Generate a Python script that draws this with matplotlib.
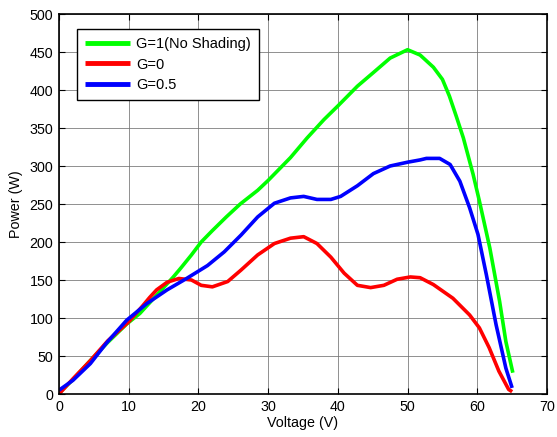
import matplotlib
matplotlib.use("Agg")
import matplotlib.pyplot as plt

plt.rcParams['font.family'] = ['Liberation Sans', 'DejaVu Sans']

# P-V characteristics of the PV array under different shading levels
v_full = [0, 2, 4.5, 7, 9.7, 11.6, 14, 16.4, 17.5, 19, 20.4, 22, 24, 26, 28.5, 30,
          33.2, 35.6, 38, 40, 42.8, 45.1, 47.5, 50, 51.8, 53.7, 55, 56, 57, 58,
          59.4, 60.3, 61.8, 63.2, 64.1, 65.1]
p_full = [1, 19, 44, 68, 92, 106, 130, 154, 166, 183, 200, 215, 233, 250, 268, 281,
          311, 337, 361, 379, 405, 423, 442, 453, 446, 430, 414, 392, 365, 337,
          289, 254, 192, 122, 69, 28]

v_g0 = [0, 2, 4.5, 7, 10, 12, 13, 14, 15.5, 17.2, 19, 20.4, 22, 24.2, 26.1, 28.5,
        30.9, 33.2, 35.1, 37, 39, 40.9, 42.8, 44.7, 46.6, 48.5, 50.4, 51.8, 53.7,
        56.5, 58.9, 60.3, 61.7, 63.1, 64.5, 65]
p_g0 = [0, 20, 44, 70, 95, 116, 127, 137, 147, 152, 150, 143, 141, 148, 163, 183,
        198, 205, 207, 198, 180, 159, 143, 140, 143, 151, 154, 153, 144,
        126, 104, 87, 61, 30, 6, 3]

v_half = [0, 2, 4.5, 6.8, 9.7, 12.6, 15.5, 18.3, 21.3, 23.7, 26.1, 28.5, 30.9,
          33.2, 35.1, 37, 39, 40.4, 42.8, 45.1, 47.5, 50, 51.8, 52.7, 54.6, 56.1,
          57.5, 58.9, 60.1, 61.3, 62.7, 64.1, 65]
p_half = [5, 18, 40, 67, 97, 119, 137, 152, 169, 187, 209, 233, 251,
          258, 260, 256, 256, 260, 274, 290, 300, 305, 308, 310, 310, 302,
          280, 245, 210, 157, 91, 34, 8]

labels = ['G=1(No Shading)', 'G=0', 'G=0.5']
colors = ['#00ff00', '#ff0000', '#0000ff']

x_ticks = [0, 10, 20, 30, 40, 50, 60, 70]
y_ticks = [0, 50, 100, 150, 200, 250, 300, 350, 400, 450, 500]

fig = plt.figure(figsize=(5.57, 4.37), dpi=100)
ax = fig.add_axes([59 / 557, 43 / 437, 488 / 557, 380 / 437])

for v, p, lab, c in zip([v_full, v_g0, v_half], [p_full, p_g0, p_half], labels, colors):
    ax.plot(v, p, color=c, lw=2.6, label=lab, solid_joinstyle='round',
            solid_capstyle='butt')

ax.set_xlim(0, 70)
ax.set_ylim(0, 500)
ax.set_xticks(x_ticks)
ax.set_yticks(y_ticks)
ax.grid(True, color='0.45', lw=0.7, ls='-', alpha=0.8)
ax.set_axisbelow(True)
ax.tick_params(direction='in', top=True, right=True, length=4, width=0.8,
               labelsize=10.3, pad=4)
for s in ax.spines.values():
    s.set_linewidth(1.2)

ax.set_xlabel('Voltage (V)', fontsize=10.3, labelpad=2)
ax.set_ylabel('Power (W)', fontsize=10.3, labelpad=5)

leg = ax.legend(loc='upper left', bbox_to_anchor=((77 - 59) / 488, (394 - 29) / 380),
                borderaxespad=0, fontsize=10.5, handlelength=3.1, labelspacing=0.45,
                fancybox=False, framealpha=1, edgecolor='black', borderpad=0.55,
                handletextpad=0.4)
leg.get_frame().set_linewidth(1.0)
for line in leg.get_lines():
    line.set_linewidth(3.5)

fig.savefig('out.png', dpi=100)
